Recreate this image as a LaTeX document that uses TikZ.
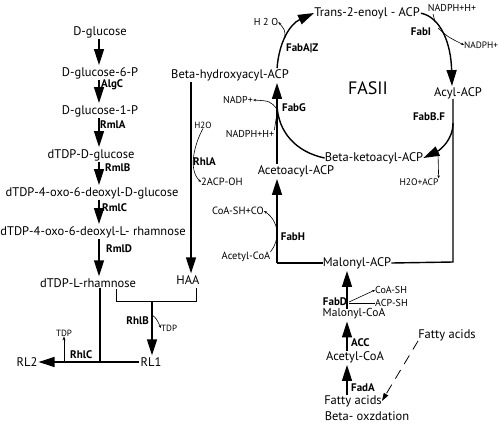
\documentclass[tikz,border=0pt]{standalone}
\usepackage{fontspec}
\setmainfont{PT Sans}
\usetikzlibrary{arrows.meta}
\begin{document}
\begin{tikzpicture}[x=1pt,y=-1pt,
  main/.style={font=\fontsize{12.5}{14}\selectfont, inner sep=0pt},
  lab/.style={font=\fontsize{11}{12}\selectfont\bfseries, inner sep=0pt},
  sm/.style={font=\fontsize{10}{11}\selectfont, inner sep=0pt},
  big/.style={line width=1.4pt, -{Triangle[length=16pt,width=10pt]}, shorten >=2pt, shorten <=1pt},
  plain/.style={line width=1.4pt},
  thinl/.style={line width=0.6pt},
  tip/.style={line width=0.6pt, -{Stealth[length=3pt,width=2.5pt]}},
]
\useasboundingbox (0,0) rectangle (500,424);
% ---------- left column ----------
\coordinate (colx) at (99,0);
\node[main] (glc) at (100,32) {D-glucose};
\node[main] (g6p) at (100,73) {D-glucose-6-P};
\node[main] (g1p) at (100,111) {D-glucose-1-P};
\node[main] (dtg) at (91,155) {dTDP-D-glucose};
\node[main] (oxg) at (92,193) {dTDP-4-oxo-6-deoxyl-D-glucose};
\node[main] (oxr) at (93,232) {dTDP-4-oxo-6-deoxyl-L- rhamnose};
\node[main] (rham) at (88,283) {dTDP-L-rhamnose};
\node[lab,anchor=west] (algc) at (101,85) {AlgC};
\node[lab,anchor=west] (rmla) at (100,125) {RmlA};
\node[lab,anchor=west] (rmlb) at (105,168) {RmlB};
\node[lab,anchor=west] (rmlc) at (102,208) {RmlC};
\node[lab,anchor=west] (rmld) at (106,249) {RmlD};
\draw[big] (glc.south -| colx) -- (g6p.north -| colx);
\draw[big] (g6p.south -| colx) -- (g1p.north -| colx);
\draw[big] (g1p.south -| colx) -- (dtg.north -| colx);
\draw[big] (dtg.south -| colx) -- (oxg.north -| colx);
\draw[big] (oxg.south -| colx) -- (oxr.north -| colx);
\draw[big] (oxr.south -| colx) -- (rham.north -| colx);
% ---------- bottom left ----------
\node[main] (rl1) at (151,362) {RL1};
\node[main] (rl2) at (27,362) {RL2};
\node[main] (haa) at (188,280) {HAA};
\coordinate (j1) at (100,362);
\coordinate (tdpb) at (64,362);
\node[sm,font=\fontsize{9}{10}\selectfont] (tdp1) at (64,333) {TDP};
\node[lab,anchor=west] (rhlc) at (70,355) {RhlC};
\draw[plain] (rham.south -| j1) -- (j1);
\draw[big, shorten >=1pt] (rl1.west) -- (rl2.east);
\draw[thinl,-{Stealth[length=4pt,width=3pt]}] (tdpb) -- (tdp1.south);
\coordinate (bl) at (116,289);
\coordinate (br) at (196,288);
\coordinate (bm) at (152,301);
\draw[line width=0.8pt] (bl) -- (116,301) -- (196,301) -- (br);
\draw[big, shorten <=0pt] (bm) -- (rl1.north -| bm);
\node[lab,anchor=east] (rhlb) at (149,321) {RhlB};
\node[sm,font=\fontsize{9}{10}\selectfont,anchor=west] (tdp2) at (161,328) {TDP};
\draw[tip] (152,315) .. controls (156,318) .. (tdp2.west);
% ---------- RhlA ----------
\node[main] (bhyd) at (230,75) {Beta-hydroxyacyl-ACP};
\coordinate (rx) at (191,0);
\draw[big] (bhyd.south -| rx) -- (haa.north -| rx);
\node[sm,font=\fontsize{9}{10}\selectfont] (h2oa) at (203,125) {H2O};
\node[lab,anchor=west] (rhla) at (193,162) {RhlA};
\node[sm,font=\fontsize{10.5}{11}\selectfont,anchor=west] (acpoh) at (201,182) {2ACP-OH};
\draw[tip] (h2oa.south) .. controls (194,145) and (188,170) .. (acpoh.west);
% ---------- FASII ----------
\node[main] (acac) at (296,171) {Acetoacyl-ACP};
\node[main] (bket) at (374,158) {Beta-ketoacyl-ACP};
\node[main] (trans) at (367,13) {Trans-2-enoyl - ACP};
\node[main] (acyl) at (458,93) {Acyl-ACP};
\node[main] (malacp) at (357,263) {Malonyl-ACP};
\node[font=\fontsize{18}{20}\selectfont, inner sep=0pt] (fas) at (368,88) {FASII};
\coordinate (gx) at (277,0);
% FabG
\draw[big] (acac.north -| gx) -- (bhyd.south -| gx);
\draw[plain] (bket.west) .. controls (296,152) and (278,132) .. (277,105);
\node[sm] (nadp1) at (238,100) {NADP+};
\draw[tip] (277,109) .. controls (270,101) .. (nadp1.east);
\node[sm] (nadph1) at (250,134) {NADPH+H+};
\draw[thinl] (nadph1.north east) -- (277,113);
\node[lab,anchor=west] (fabg) at (282,108) {FabG};
% FabA|Z
\draw[big, shorten >=0pt] (bhyd.north -| gx) .. controls (279,42) and (290,24) .. (trans.west);
\node[sm] (h2ob) at (266,22) {H 2 O};
\draw[tip] (285,38) .. controls (285,30) .. (h2ob.east);
\node[lab,anchor=west] (fabaz) at (286,48) {FabA|Z};
% FabI
\coordinate (ix) at (452,0);
\draw[big, shorten >=1pt] (trans.east) .. controls (440,17) and (451,42) .. (acyl.north -| ix);
\node[sm] (nadph2) at (452,8) {NADPH+H+};
\draw[thinl] (433,14) -- (435,22);
\node[sm,font=\fontsize{9.3}{10}\selectfont,anchor=west] (nadp2) at (464,45) {NADPH+};
\draw[tip] (438,28) .. controls (448,37) .. (nadp2.west);
\node[lab] (fabi) at (421,32) {FabI};
% FabB.F
\coordinate (fx) at (453,0);
\coordinate (fc) at (453,262);
\node[lab] (fabbf) at (429,117) {FabB.F};
\draw[plain] (acyl.south -| fx) -- (fc) -- (malacp.east);
\draw[big, shorten >=0pt] (453,122) .. controls (453,140) and (440,150) .. (bket.east);
\node[sm,font=\fontsize{9.5}{10}\selectfont] (h2oacp) at (419,182) {H2O+ACP};
\draw[tip] (438,152) -- (h2oacp.north east);
% FabH
\coordinate (hc) at (277,263);
\draw[plain] (malacp.west) -- (hc);
\draw[big, shorten <=0pt] (hc) -- (acac.south -| hc);
\node[lab] (fabh) at (293,237) {FabH};
\node[sm,font=\fontsize{10.5}{11}\selectfont] (coasc) at (238,211) {CoA-SH+CO};
\node[sm,font=\fontsize{10.5}{11}\selectfont] (acetsm) at (246,257) {Acetyl-CoA};
\draw[tip] (acetsm.north east) .. controls (280,240) and (280,222) .. (coasc.east);
% ---------- lower stack ----------
\coordinate (sx) at (347,0);
\node[main,font=\fontsize{11.5}{13}\selectfont] (malcoa) at (354,314) {Malonyl-CoA};
\node[main] (acetcoa) at (355,357) {Acetyl-CoA};
\node[main] (fatty) at (353,401) {Fatty acids};
\node[main] (boxd) at (367,416) {Beta- oxzdation};
\node[main] (fatty2) at (447,335) {Fatty acids};
\node[lab] (fabd) at (335,301.5) {FabD};
\node[lab,anchor=west] (acc) at (351,343) {ACC};
\node[lab,anchor=west] (fada) at (351,388) {FadA};
\draw[big, shorten <=0pt] (malcoa.north -| sx) -- (malacp.south -| sx);
\draw[big, shorten <=0pt] (acetcoa.north -| sx) -- (malcoa.south -| sx);
\draw[big, shorten <=0pt] (fatty.north -| sx) -- (acetcoa.south -| sx);
\node[sm,anchor=west] (coash) at (375,290) {CoA-SH};
\node[sm,anchor=west] (acpsh) at (375,303) {ACP-SH};
\draw[tip] (349,302) -- (coash.west);
\draw[thinl] (349,303) -- (acpsh.west);
\draw[line width=0.8pt, dash pattern=on 10pt off 7pt, -{Triangle[length=8pt,width=5pt]}] (fatty2.south west) -- (fatty.east);
\end{tikzpicture}
\end{document}
